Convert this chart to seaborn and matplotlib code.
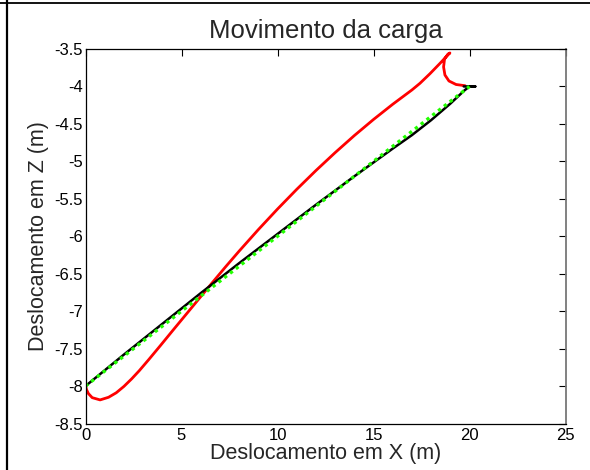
import numpy as np
import pandas as pd
import seaborn as sns
import matplotlib
matplotlib.use("Agg")
import matplotlib.pyplot as plt
from matplotlib.lines import Line2D
from matplotlib.ticker import FuncFormatter

# Load trajectory (red), reference path (black) and straight target line (green)
red_x = [19.77, 19.30, 18.93, 18.72, 18.65, 18.70, 18.88, 18.98, 18.78, 18.47,
         17.94, 17.42, 17.0, 16.0, 15.0, 14.0, 13.0, 12.0, 11.0, 10.0, 9.0,
         8.0, 7.3, 6.59, 6.0, 5.3, 4.6, 3.9, 3.3, 2.8, 2.4, 2.0, 1.6, 1.2,
         0.76, 0.35, 0.15, 0.05, 0.0]
red_z = [-3.990, -3.974, -3.927, -3.847, -3.740, -3.634, -3.567, -3.553, -3.605,
         -3.690, -3.830, -3.958, -4.047, -4.238, -4.441, -4.656, -4.884, -5.123,
         -5.374, -5.637, -5.912, -6.199, -6.407, -6.624, -6.807, -7.024, -7.241,
         -7.460, -7.645, -7.795, -7.905, -8.005, -8.090, -8.150, -8.185, -8.155,
         -8.100, -8.045, -7.990]

black_x = [0.0, 2.0, 4.0, 6.0, 8.0, 10.0, 12.0, 14.0, 16.0, 17.0, 18.0, 19.0,
           19.75, 20.0, 20.3, 19.7]
black_z = [-8.0, -7.58, -7.17, -6.76, -6.36, -5.97, -5.58, -5.20, -4.83, -4.65,
           -4.45, -4.23, -4.05, -4.00, -4.00, -4.00]

green_x = [0.0, 20.0]
green_z = [-8.0, -4.0]

x_ticks = [0, 5, 10, 15, 20, 25]
z_ticks = [-8.5, -8, -7.5, -7, -6.5, -6, -5.5, -5, -4.5, -4, -3.5]

sns.set_theme(style="white")
plt.rcParams["font.family"] = ["Liberation Sans", "DejaVu Sans"]

fig = plt.figure(figsize=(5.9, 4.7), dpi=100)
ax = fig.add_axes([85.5 / 590, 1 - 423.5 / 470, 480 / 590, 374.5 / 470])

red_df = pd.DataFrame({"x": red_x, "z": red_z})
black_df = pd.DataFrame({"x": black_x, "z": black_z})
green_df = pd.DataFrame({"x": green_x, "z": green_z})

sns.lineplot(data=red_df, x="x", y="z", sort=False, estimator=None,
             color="#ff0000", linewidth=2.0, ax=ax)
sns.lineplot(data=black_df, x="x", y="z", sort=False, estimator=None,
             color="black", linewidth=1.8, ax=ax)
sns.lineplot(data=green_df, x="x", y="z", sort=False, estimator=None,
             color="#22ff00", linewidth=2.4, linestyle=(0, (1, 1.2)), ax=ax)

ax.set_xlim(0, 25)
ax.set_ylim(-8.5, -3.5)
ax.set_xticks(x_ticks)
ax.set_yticks(z_ticks)
ax.xaxis.set_major_formatter(FuncFormatter(lambda v, p: f"{v:g}"))
ax.yaxis.set_major_formatter(FuncFormatter(lambda v, p: f"{v:g}"))
ax.tick_params(direction="in", length=5, width=0.8, top=True, right=True,
               labelsize=12, colors="black", pad=2)
ax.tick_params(axis="x", pad=3)

for side, sp in ax.spines.items():
    sp.set_visible(True)
    sp.set_color("black")
    sp.set_linewidth(0.9)
ax.spines["right"].set_color("#777777")
ax.spines["right"].set_linewidth(1.3)

ax.set_title("Movimento da carga", fontsize=18.5, pad=8)
ax.set_xlabel("Deslocamento em X (m)", fontsize=15.5, labelpad=0)
ax.set_ylabel("Deslocamento em Z (m)", fontsize=15.5, labelpad=4)

# page frame lines
fig.add_artist(Line2D([0, 1], [1 - 2.5 / 470, 1 - 2.5 / 470], color="black",
                      linewidth=1.3, transform=fig.transFigure))
fig.add_artist(Line2D([7.3 / 590, 7.3 / 590], [0, 1], color="black",
                      linewidth=1.6, transform=fig.transFigure))

fig.savefig("out.png", dpi=100, facecolor="white")
